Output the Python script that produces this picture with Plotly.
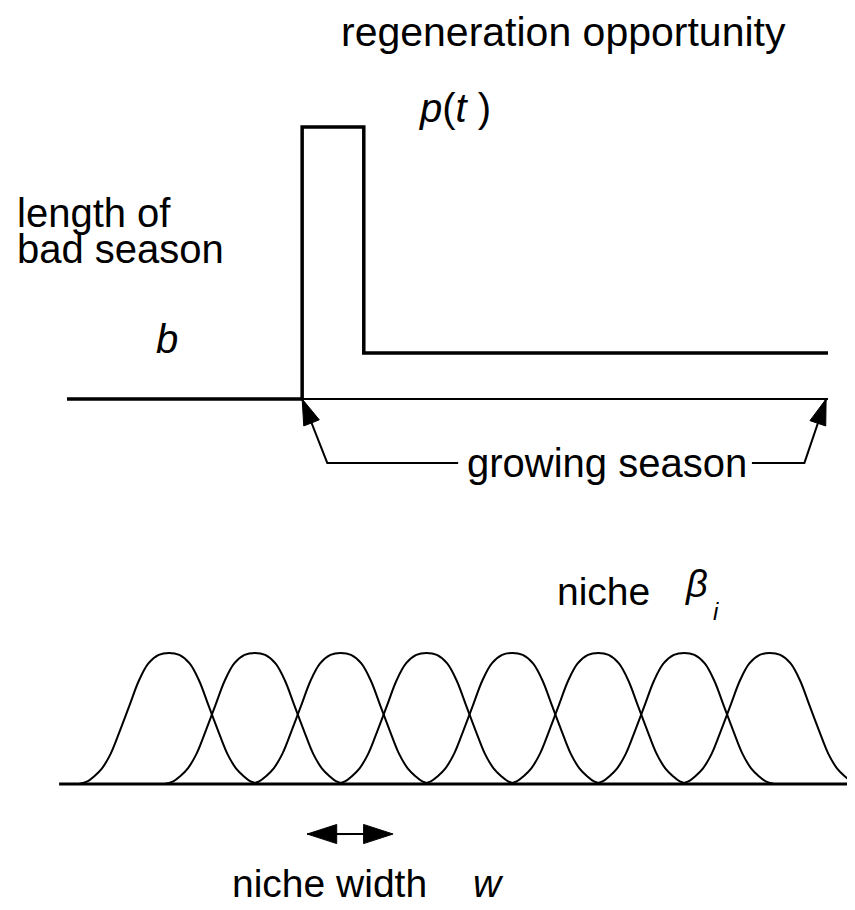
import plotly.graph_objects as go

# page size and the default 8px body margin of the html page
PAGE_W, PAGE_H = 855, 910
OFF = 8
W, H = PAGE_W - OFF, PAGE_H - OFF

# ---------------- top panel: regeneration opportunity p(t) over one year ----------------
# t in percent of the year, p relative to the pulse height
season_t = [0, 30.9, 30.9, 39.0, 39.0, 100]
season_p = [0, 0, 1.0, 1.0, 0.169, 0.169]
time_axis_t = [30.9, 100]
time_axis_p = [0, 0]
bracket_left_t = [51.4, 34.2, 30.9]
bracket_left_p = [-0.235, -0.235, 0.0]
bracket_right_t = [90.0, 96.9, 99.75]
bracket_right_p = [-0.235, -0.235, 0.0]

# ---------------- bottom panel: niches ----------------
niche_centers = [1, 2, 3, 4, 5, 6, 7, 8]
niche_profile_u = [-1.05, -0.95, -0.87, -0.78, -0.68, -0.57, -0.46, -0.35, -0.24, -0.12, 0.0,
                   0.12, 0.24, 0.35, 0.46, 0.57, 0.68, 0.78, 0.87, 0.95, 1.05]
niche_profile_h = [0.0, 0.02, 0.06, 0.12, 0.23, 0.41, 0.60, 0.79, 0.92, 0.985, 1.0,
                   0.985, 0.92, 0.79, 0.60, 0.41, 0.23, 0.12, 0.06, 0.02, 0.0]
niche_axis_u = [-0.28, 9.2]
niche_axis_h = [0, 0]
width_arrow_u = [3.1, 2.61, 3.61]
width_arrow_h = [-0.382, -0.382, -0.382]

FONT = "Liberation Sans, Arial, Helvetica, sans-serif"


def axis_range(p0, v0, p1, v1, lo, hi):
    """value range seen between page pixels lo and hi, given two pixel->value anchors"""
    k = (v1 - v0) / (p1 - p0)
    return [v0 + (lo - p0) * k, v0 + (hi - p0) * k]


x_rng = axis_range(67, 0, 828, 100, OFF, PAGE_W)
y_rng = sorted(axis_range(399, 0, 127, 1, OFF, PAGE_H))
x2_rng = axis_range(169, 1, 770, 8, OFF, PAGE_W)
y2_rng = sorted(axis_range(784, 0, 653, 1, OFF, PAGE_H))

fig = go.Figure()

# p(t)
fig.add_trace(go.Scatter(x=season_t, y=season_p, mode="lines",
                         line=dict(color="black", width=3.5), xaxis="x", yaxis="y"))
fig.add_trace(go.Scatter(x=time_axis_t, y=time_axis_p, mode="lines",
                         line=dict(color="black", width=2), xaxis="x", yaxis="y"))
for bt, bp in [(bracket_left_t, bracket_left_p), (bracket_right_t, bracket_right_p)]:
    fig.add_trace(go.Scatter(x=bt, y=bp, mode="lines+markers",
                             line=dict(color="black", width=2),
                             marker=dict(symbol="arrow", size=[0, 0, 27], angleref="previous",
                                         color="black", opacity=1,
                                         line=dict(width=1, color="black")),
                             xaxis="x", yaxis="y"))

# niches
fig.add_trace(go.Scatter(x=niche_axis_u, y=niche_axis_h, mode="lines",
                         line=dict(color="black", width=3), xaxis="x2", yaxis="y2"))
for c in niche_centers:
    fig.add_trace(go.Scatter(x=[c + u for u in niche_profile_u], y=niche_profile_h,
                             mode="lines", line=dict(color="black", width=2, shape="spline",
                                                     smoothing=1.0),
                             xaxis="x2", yaxis="y2"))
fig.add_trace(go.Scatter(x=width_arrow_u, y=width_arrow_h, mode="lines+markers",
                         line=dict(color="black", width=2),
                         marker=dict(symbol="arrow", size=[0, 31, 31], angleref="previous",
                                     color="black", opacity=1,
                                     line=dict(width=1, color="black")),
                         xaxis="x2", yaxis="y2"))


def paper(xp, yp):
    return (xp - OFF) / W, 1 - (yp - OFF) / H


annots = [
    ("regeneration opportunity", 563, 32, "center", 41),
    ("<i>p</i>(<i>t</i> )", 455, 108, "center", 40),
    ("length of", 15, 213, "left", 40),
    ("bad season", 15, 249, "left", 40),
    ("<i>b</i>", 167, 339, "center", 40),
    ("growing season", 607, 463, "center", 40),
    ("niche", 555, 591, "left", 39),
    ("<i>β</i>", 696, 584, "center", 38),
    ("<i>i</i>", 716, 611, "center", 24),
    ("niche width", 230, 883, "left", 39),
    ("<i>w</i>", 488, 883, "center", 39),
]
for text, x0, y0, anchor, size in annots:
    ax_, ay_ = paper(x0, y0)
    fig.add_annotation(text=text, x=ax_, y=ay_, xref="paper", yref="paper",
                       xanchor=anchor, yanchor="middle", showarrow=False,
                       font=dict(family=FONT, size=size, color="black"))

ax_common = dict(visible=False, showgrid=False, zeroline=False, fixedrange=True)
fig.update_layout(
    width=W, height=H,
    margin=dict(l=0, r=0, t=0, b=0),
    paper_bgcolor="white", plot_bgcolor="rgba(0,0,0,0)",
    showlegend=False,
    xaxis=dict(domain=[0, 1], range=x_rng, anchor="y", **ax_common),
    yaxis=dict(domain=[0, 1], range=y_rng, anchor="x", **ax_common),
    xaxis2=dict(domain=[0, 1], range=x2_rng, anchor="y2", **ax_common),
    yaxis2=dict(domain=[0, 1], range=y2_rng, anchor="x2", **ax_common),
)

fig.write_html("out.html")
